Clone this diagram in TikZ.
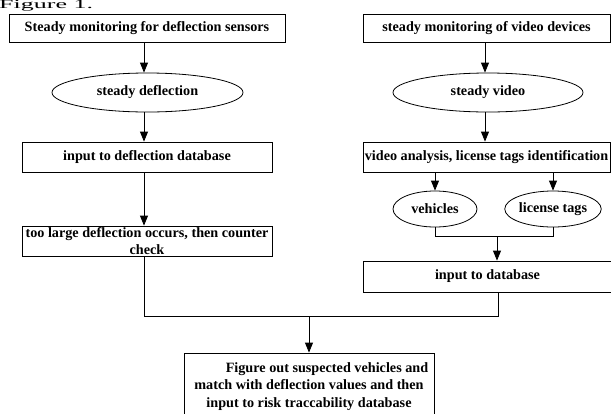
\documentclass[tikz,border=0pt]{standalone}
\usepackage{fontspec}
\setmainfont{Liberation Serif}
\usetikzlibrary{shapes.geometric,arrows.meta}
\begin{document}
\begin{tikzpicture}[x=1pt,y=-1pt,
  every node/.style={font=\bfseries\fontsize{14.2}{16.5}\selectfont, inner sep=0pt},
  boxn/.style={draw, line width=0.8pt, rectangle, align=center},
  ovaln/.style={draw, line width=0.8pt, ellipse},
  conn/.style={line width=0.8pt},
  arr/.style={line width=0.8pt, -{Triangle[length=10pt,width=8pt]}}]
\useasboundingbox (0,0) rectangle (611,413);
\node[anchor=base west, font=\fontsize{26}{28}\selectfont] (title) at (-1,8.5) {\scalebox{1}[0.48]{Figure 1.}};
% left column
\node[boxn, minimum width=276pt, minimum height=28pt] (b1) at (147,28) {Steady monitoring for deflection sensors};
\node[ovaln, minimum width=191pt, minimum height=39pt] (e1) at (147.5,92.5) {steady deflection};
\node[boxn, minimum width=250pt, minimum height=30pt] (b2) at (147,157) {input to deflection database};
\node[boxn, minimum width=250pt, minimum height=30pt] (b3) at (147,241) {too large deflection occurs, then counter\\check};
% right column
\node[boxn, minimum width=247pt, minimum height=28pt] (r1) at (486.5,28) {steady monitoring of video devices};
\node[ovaln, minimum width=190pt, minimum height=39pt] (e2) at (488,92.5) {steady video};
\node[boxn, minimum width=247pt, minimum height=30pt] (r2) at (486.5,157) {video analysis, license tags identification};
\node[ovaln, minimum width=84pt, minimum height=36pt] (e3) at (435,209) {vehicles};
\node[ovaln, minimum width=80pt, minimum height=36pt] (e4) at (553,209) {license tags};
\node[boxn, minimum width=249pt, minimum height=31pt] (r3) at (487.5,276.5) {input to database};
% final
\node[boxn, minimum width=250pt, minimum height=67pt, font=\bfseries\fontsize{14.2}{17.5}\selectfont] (f) at (309,386.5) {\hspace*{36pt}Figure out suspected vehicles and\\match with deflection values and then\\input to risk traccability database};
% helper coordinates
\coordinate (lx) at (144,0);
\coordinate (rx) at (485,0);
\coordinate (j) at (309,316);
\coordinate (k) at (497,236);
\coordinate (m) at (498,0);
% connectors left
\draw[arr] (b1.south -| lx) -- (e1.north -| lx);
\draw[arr] (e1.south -| lx) -- (b2.north -| lx);
\draw[arr] (b2.south -| lx) -- (b3.north -| lx);
\draw[conn] (b3.south -| lx) |- (j);
\draw[conn] (r3.south -| m) |- (j);
\draw[arr] (j) -- (f.north);
% connectors right
\draw[arr] (r1.south -| rx) -- (e2.north -| rx);
\draw[arr] (e2.south -| rx) -- (r2.north -| rx);
\draw[arr] (r2.south -| e3) -- (e3.north);
\draw[arr] (r2.south -| e4) -- (e4.north);
\draw[conn] (e3.south) |- (k);
\draw[conn] (e4.south) |- (k);
\draw[arr] (k) -- (r3.north -| k);
\end{tikzpicture}
\end{document}
